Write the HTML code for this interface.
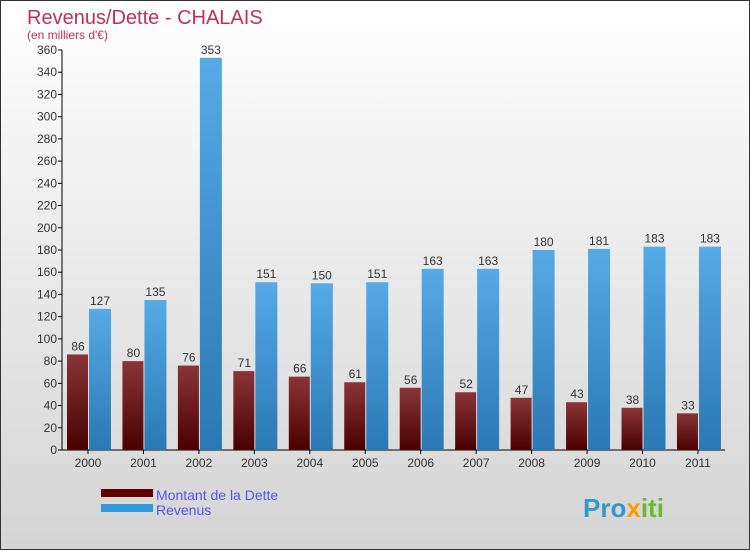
<!DOCTYPE html>
<html><head><meta charset="utf-8">
<style>
html,body{margin:0;padding:0}
body{width:750px;height:550px;overflow:hidden;font-family:"Liberation Sans",sans-serif}
#wrap{position:absolute;left:0;top:0;width:748px;height:548px;border:1px solid #333;background:linear-gradient(#ffffff,#d4d4d4)}
</style></head><body>
<div id="wrap">
<svg id="chart" width="748" height="548">
<defs>
<linearGradient id="gd" x1="0" y1="0" x2="0" y2="1"><stop offset="0" stop-color="#8a3538"/><stop offset="1" stop-color="#4a0000"/></linearGradient>
<linearGradient id="gr" x1="0" y1="0" x2="0" y2="1"><stop offset="0" stop-color="#56aae6"/><stop offset="1" stop-color="#2a78b4"/></linearGradient>
</defs>
<text x="26" y="23" font-size="20" fill="#c0305a">Revenus/Dette - CHALAIS</text>
<text x="26" y="38" font-size="12" fill="#c0305a">(en milliers d'€)</text>
<g id="axes"></g>
<g id="bars"></g>
<rect x="100" y="488" width="52" height="8" fill="#600000"/>
<text x="155" y="499" font-size="14" fill="#5555ee">Montant de la Dette</text>
<rect x="100" y="503" width="52" height="8" fill="#3399dd"/>
<text x="155" y="514" font-size="14" fill="#5555ee">Revenus</text>
<text x="582" y="516" font-size="26" font-weight="bold" fill="#3399cc">Pro<tspan fill="#ff9900">x</tspan><tspan fill="#66bb33">iti</tspan></text>
</svg>
</div>
<script>
const years=["2000","2001","2002","2003","2004","2005","2006","2007","2008","2009","2010","2011"];
const dette=[86,80,76,71,66,61,56,52,47,43,38,33];
const revenus=[127,135,353,151,150,151,163,163,180,181,183,183];
const yTicks=[0,20,40,60,80,100,120,140,160,180,200,220,240,260,280,300,320,340,360];
const NS="http://www.w3.org/2000/svg";
const x0=61,step=55.45,y0=449,ymax=360,ph=400;
function y(v){return y0-v/ymax*ph;}
function cx(i){return 87+i*step;}
function mk(t,a,p){const e=document.createElementNS(NS,t);for(const k in a)e.setAttribute(k,a[k]);p.appendChild(e);return e;}
const ax=document.getElementById('axes'),bg=document.getElementById('bars');
yTicks.forEach(t=>{
 const l=mk('line',{x1:x0-4,x2:x0,y1:y(t),y2:y(t),stroke:'#000'},ax);
 
 
 const tx=mk('text',{x:x0-5,y:y(t)+4,'font-size':12,'text-anchor':'end',fill:'#333'},ax);
 tx.textContent=t;
 
 
});
years.forEach((yr,i)=>{
 const d=dette[i],r=revenus[i],c=cx(i);
 const b1=mk('rect',{x:c-21,y:y(d),width:21,height:y0-y(d),fill:'url(#gd)'},bg);
 
 
 const b2=mk('rect',{x:c+1,y:y(r),width:22,height:y0-y(r),fill:'url(#gr)'},bg);
 
 
 const t1=mk('text',{x:c-10,y:y(d)-4,'font-size':12,'text-anchor':'middle',fill:'#333'},bg);
 t1.textContent=d;
 
 
 const t2=mk('text',{x:c+12,y:y(r)-4,'font-size':12,'text-anchor':'middle',fill:'#333'},bg);
 t2.textContent=r;
 
 
 const tk=mk('line',{x1:c,x2:c,y1:y0,y2:y0+4,stroke:'#000'},ax);
 
 
 const xl=mk('text',{x:c,y:y0+17,'font-size':12,'text-anchor':'middle',fill:'#333'},ax);
 xl.textContent=yr;
 
 
});
const ya=mk('line',{x1:x0,x2:x0,y1:y(360),y2:y0,stroke:'#000'},ax);


const xa=mk('line',{x1:x0,x2:724,y1:y0,y2:y0,stroke:'#000'},ax);


</script>
</body></html>
